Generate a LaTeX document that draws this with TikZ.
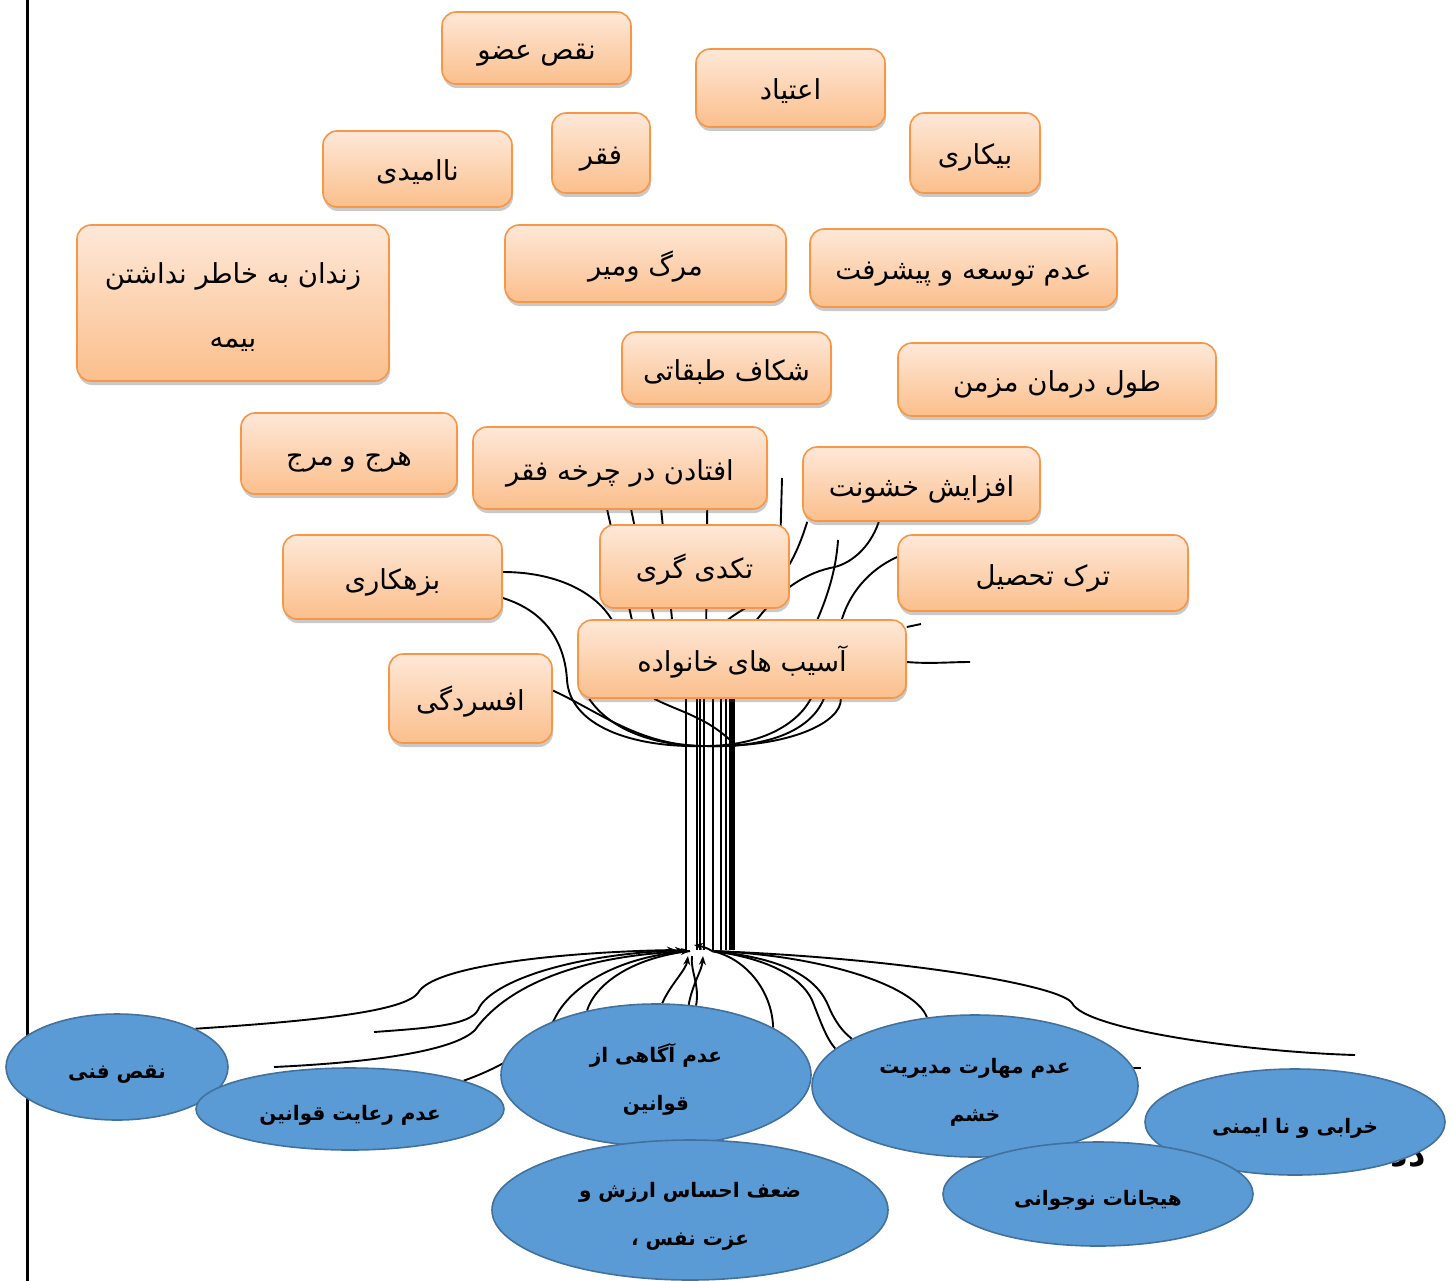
\documentclass[tikz,border=0pt]{standalone}
\usepackage{fontspec}
\usetikzlibrary{shapes.geometric,shadows,backgrounds,arrows.meta}
\newfontfamily\fa[Script=Arabic]{DejaVu Sans}
\TeXXeTstate=1
\newcommand{\fatext}[1]{\raisebox{-11pt}[0pt][0pt]{\beginR #1\endR}}
\newcommand{\fabox}[1]{\raisebox{-12pt}[0pt][0pt]{\beginR #1\endR}}
\definecolor{boxtop}{HTML}{FEE8D8}
\definecolor{boxbot}{HTML}{FBBF8C}
\definecolor{boxborder}{HTML}{F79646}
\definecolor{ellfill}{HTML}{5B9BD5}
\definecolor{ellborder}{HTML}{41719C}
\begin{document}
\begin{tikzpicture}[x=1pt,y=-1pt,
  box/.style={rectangle, rounded corners=14pt, draw=boxborder, line width=1.6pt,
    top color=boxtop, bottom color=boxbot,
    drop shadow={shadow xshift=1pt, shadow yshift=-4pt, opacity=0.3, fill=black!70},
    inner sep=0pt, align=center, font=\fa\fontsize{27.5}{64}\selectfont},
  ell/.style={ellipse, draw=ellborder, line width=1.6pt, fill=ellfill,
    inner sep=0pt, align=center, font=\fa\bfseries\fontsize{20}{48}\selectfont},
  conn/.style={line width=1.9pt, black},
  tip/.style={-{Stealth[length=9pt,width=7pt]}}
]
\useasboundingbox (0,0) rectangle (1455,1281);

% ---------- boxes ----------
\node[box, minimum width=189pt, minimum height=72pt] (b1) at (536.5,48) {\fabox{نقص عضو}};
\node[box, minimum width=189pt, minimum height=78pt] (b2) at (790.5,88) {\fabox{اعتیاد}};
\node[box, minimum width=98pt, minimum height=80pt] (b3) at (601,153) {\fabox{فقر}};
\node[box, minimum width=130pt, minimum height=80pt] (b4) at (975,153) {\fabox{بیکاری}};
\node[box, minimum width=189pt, minimum height=76pt] (b5) at (417.5,169) {\fabox{ناامیدی}};
\node[box, minimum width=312pt, minimum height=156pt] (b6) at (233,303) {\fabox{زندان به خاطر نداشتن}\\\fabox{بیمه}};
\node[box, minimum width=281pt, minimum height=77pt] (b7) at (645.5,263.5) {\fabox{مرگ ومیر}};
\node[box, minimum width=307pt, minimum height=78pt] (b8) at (963.5,268) {\fabox{عدم توسعه و پیشرفت}};
\node[box, minimum width=209pt, minimum height=72pt] (b9) at (726.5,368) {\fabox{شکاف طبقاتی}};
\node[box, minimum width=318pt, minimum height=73pt] (b10) at (1057,379.5) {\fabox{طول درمان مزمن}};
\node[box, minimum width=216pt, minimum height=81pt] (b11) at (349,453.5) {\fabox{هرج و مرج}};
\node[box, minimum width=294pt, minimum height=82pt] (b12) at (620,468) {\fabox{افتادن در چرخه فقر}};
\node[box, minimum width=237pt, minimum height=74pt] (b13) at (921.5,484) {\fabox{افزایش خشونت}};
\node[box, minimum width=189pt, minimum height=83pt] (b14) at (694.5,566.5) {\fabox{تکدی گری}};
\node[box, minimum width=290pt, minimum height=76pt] (b15) at (1043,573) {\fabox{ترک تحصیل}};
\node[box, minimum width=219pt, minimum height=84pt] (b16) at (392.5,577) {\fabox{بزهکاری}};
\node[box, minimum width=328pt, minimum height=78pt] (b17) at (742,659) {\fabox{آسیب های خانواده}};
\node[box, minimum width=163pt, minimum height=89pt] (b18) at (470.5,698.5) {\fabox{افسردگی}};

% ---------- ellipses ----------
\node[ell, minimum width=222pt, minimum height=106pt] (e1) at (117,1067) {\fatext{نقص فنی}};
\node[ell, minimum width=308pt, minimum height=82pt] (e2) at (350,1109) {\fatext{عدم رعایت قوانین}};
\node[ell, minimum width=310pt, minimum height=142pt] (e3) at (656,1075) {\fatext{عدم آگاهی از}\\\fatext{قوانین}};
\node[ell, minimum width=396pt, minimum height=140pt] (e6) at (690,1210) {\fatext{ضعف احساس ارزش و}\\\fatext{عزت نفس ،}};
\node[ell, minimum width=326pt, minimum height=142pt] (e4) at (975,1086) {\fatext{عدم مهارت مدیریت}\\\fatext{خشم}};
\node[font=\fa\bfseries\fontsize{34}{36}\selectfont, inner sep=0pt] (frag) at (1408,1160) {\beginR دد\endR};
\node[ell, minimum width=300pt, minimum height=106pt] (e5) at (1295,1122) {\fatext{خرابی و نا ایمنی}};
\node[ell, minimum width=310pt, minimum height=104pt] (e7) at (1098,1194) {\fatext{هیجانات نوجوانی}};

% ---------- connectors ----------
\begin{pgfonlayer}{background}
  % page margin rule
  \coordinate (ml1) at (27,0); \coordinate (ml2) at (27,1281);
  \draw[line width=3pt] (ml1) -- (ml2);

  \coordinate (hub) at (705,746);
  \coordinate (rootL) at (676,950);
  \coordinate (rootM) at (684,950);
  \coordinate (rootN) at (690,951);
  \coordinate (rootR) at (712,951);

  % trunk
  \foreach \x/\w in {686/1.9,697/1.9,700/1.9,704/1.9,713/1.9,721/1.9,726/1.9,731/4.5,734/1.9}{
    \coordinate (tt) at (\x,690); \coordinate (rr) at (\x,950);
    \draw[line width=\w pt] (tt) -- (rr);
  }

  % upper branches
  \draw[conn] ([yshift=8pt]b18.east) .. controls (600,712) and (640,746) .. (hub);
  \draw[conn] ([yshift=-21pt]b16.east) .. controls (548,612) and (565,645) .. (567,680) .. controls (570,725) and (630,748) .. (hub);
  \draw[conn] ([yshift=5pt]b16.east) .. controls (560,572) and (600,595) .. ([xshift=37pt,yshift=-5pt]b17.north west);
  \draw[conn] ([xshift=77pt]b17.south west) .. controls (680,712) and (710,718) .. ([xshift=-6pt]b17.south |- hub);
  \draw[conn] ([xshift=12pt]b17.south west) .. controls (610,730) and (655,746) .. (hub);
  \draw[conn] ([xshift=-96pt]b17.south east) .. controls (795,728) and (755,746) .. (hub);
  \draw[conn] ([xshift=-83pt]b17.south east) .. controls (810,732) and (765,748) .. (hub);
  \draw[conn] ([xshift=-66pt]b17.south east) .. controls (842,722) and (790,748) .. (hub);

  % through the middle boxes
  \draw[conn] ([xshift=135pt]b12.south west) -- ([xshift=55pt,yshift=-2pt]b17.north west);
  \draw[conn] ([xshift=159pt]b12.south west) -- ([xshift=77pt,yshift=-2pt]b17.north west);
  \draw[conn] ([xshift=189pt]b12.south west) -- ([xshift=95pt,yshift=-2pt]b17.north west);
  \draw[conn] ([xshift=235pt]b12.south west) -- ([xshift=129pt,yshift=-2pt]b17.north west);

  % right side branches
  \coordinate (fr1) at (782,478);
  \draw[conn] (fr1) -- ([xshift=-10pt,yshift=-35pt]b14.north east);
  \draw[conn] ([xshift=5pt]b13.south west) .. controls (800,545) and (790,570) .. (770,590) .. controls (755,605) and (735,612) .. ([xshift=147pt,yshift=-4pt]b17.north west);
  \draw[conn] ([xshift=-162pt]b13.south east) .. controls (870,548) and (850,565) .. (830,568) .. controls (800,575) and (775,595) .. ([xshift=177pt,yshift=-4pt]b17.north west);
  \coordinate (fr2) at (838,540);
  \draw[conn] (fr2) .. controls (836,572) and (826,600) .. ([xshift=-91pt,yshift=-4pt]b17.north east);
  \draw[conn] ([yshift=16pt]b15.west) .. controls (868,570) and (848,595) .. ([xshift=-66pt,yshift=-4pt]b17.north east);
  \coordinate (fr3) at (921,624);
  \draw[conn] ([yshift=32pt]b17.east) -- (fr3);
  \coordinate (fr4) at (970,662);
  \draw[conn] ([yshift=-3pt]b17.east) .. controls (930,664) and (950,662) .. (fr4);

  % roots (left, with arrows)
  \draw[conn,tip] (e1.26) .. controls (330,1020) and (405,1010) .. (418,993) .. controls (432,966) and (560,952) .. (rootL);
  \coordinate (fr5) at (374,1032);
  \draw[conn,tip] (fr5) .. controls (430,1028) and (470,1025) .. (478,1010) .. controls (488,985) and (560,955) .. (rootM);
  \coordinate (fr6) at (274,1067);
  \draw[conn,tip] (fr6) .. controls (380,1062) and (455,1050) .. (475,1030) .. controls (500,995) and (560,957) .. (rootN);
  \draw[conn] (e2.14) .. controls (500,1068) and (540,1045) .. (554,1020) .. controls (570,985) and (620,956) .. (rootN);
  \draw[conn] (e3.137) .. controls (595,985) and (630,958) .. (rootN);
  \coordinate (up1) at (688,956);
  \coordinate (up2) at (703,956);
  \coordinate (up3) at (692,956);
  \draw[conn,tip] (e3.85) .. controls (670,985) and (686,970) .. (up1);
  \draw[conn,tip] (e3.65) .. controls (692,985) and (702,970) .. (up2);
  \draw[conn] (e3.60) .. controls (700,985) and (690,970) .. (up3);
  \coordinate (lt) at (694,945);
  \draw[conn,tip] (rootR) .. controls (708,948) and (700,946) .. (lt);

  % roots (right)
  \coordinate (fr7) at (1355,1055);
  \draw[conn] (rootR) .. controls (900,958) and (1060,985) .. (1072,1003) .. controls (1085,1030) and (1250,1052) .. (fr7);
  \draw[conn] (rootR) .. controls (820,955) and (915,985) .. (e4.125);
  \draw[conn] (rootR) .. controls (780,958) and (815,975) .. (828,1005) .. controls (835,1022) and (843,1032) .. (e4.159);
  \draw[conn] (rootR) .. controls (765,958) and (800,975) .. (812,1000) .. controls (820,1020) and (826,1038) .. (e4.165);
  \draw[conn] (rootR) .. controls (745,958) and (772,990) .. (e3.22);
  \coordinate (tk1) at (1126,1068); \coordinate (tk2) at (1141,1068);
  \draw[conn] (tk1) -- (tk2);
\end{pgfonlayer}
\end{tikzpicture}
\end{document}
